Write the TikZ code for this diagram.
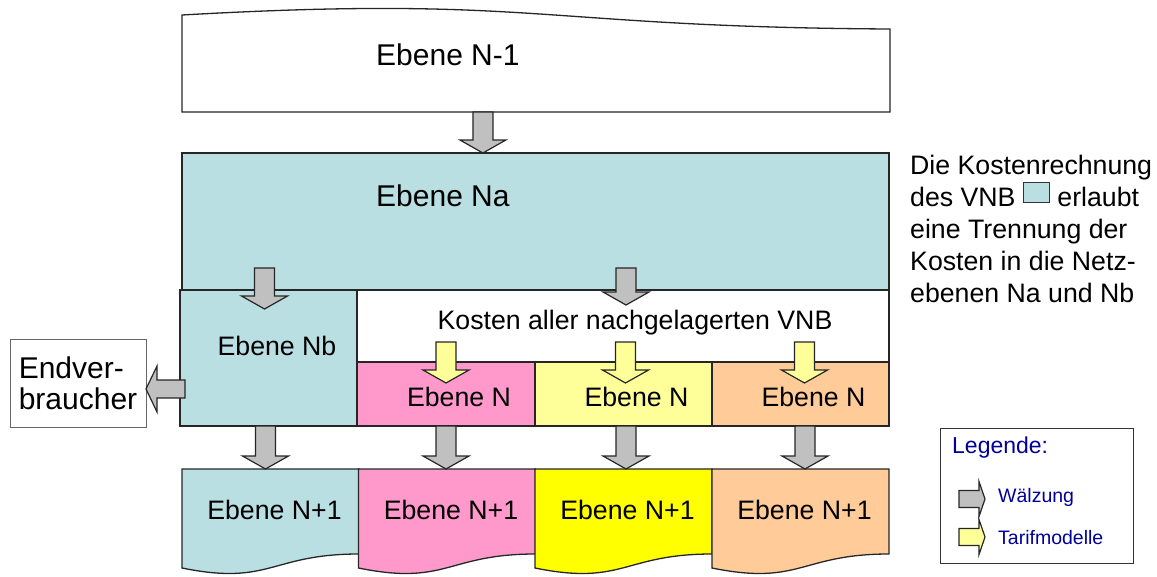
\documentclass[tikz,border=0pt]{standalone}
\usepackage{fontspec}
\setmainfont{Liberation Sans}
\usetikzlibrary{positioning, calc}

\definecolor{nbteal}{RGB}{185,223,227}
\definecolor{npink}{RGB}{255,153,204}
\definecolor{nlyellow}{RGB}{255,255,153}
\definecolor{nyellow}{RGB}{255,255,0}
\definecolor{npeach}{RGB}{255,204,153}
\definecolor{pfeilgrau}{RGB}{192,192,192}
\definecolor{legblau}{RGB}{0,0,153}

\newcommand{\fgross}{\fontsize{30pt}{31pt}\selectfont}
\newcommand{\fnorm}{\fontsize{26.7pt}{32pt}\selectfont}
\newcommand{\flegkopf}{\fontsize{23pt}{26pt}\selectfont}
\newcommand{\fleg}{\fontsize{19.5pt}{22pt}\selectfont}

% block arrow pointing down: style, start, tip
\newcommand{\pfeilab}[3]{%
	\draw[#1] let \p1=(#2), \p2=(#3) in
	(\x1-10pt,\y1) -- (\x1+10pt,\y1) -- (\x1+10pt,\y2+13pt) -- (\x1+23pt,\y2+13pt)
	-- (\x1,\y2) -- (\x1-23pt,\y2+13pt) -- (\x1-10pt,\y2+13pt) -- cycle;}

% block arrow left/right: style, start, tip, half shaft, half head, head length
\newcommand{\pfeilquer}[6]{%
	\draw[#1] let \p1=(#2), \p2=(#3), \n1={(\x2-\x1)/abs(\x2-\x1)}, \n2={\x2-\n1*#6} in
	(\x1,\y1-#4) -- (\n2,\y1-#4) -- (\n2,\y1-#5) -- (\x2,\y1)
	-- (\n2,\y1+#5) -- (\n2,\y1+#4) -- (\x1,\y1+#4) -- cycle;}

\begin{document}
\begin{tikzpicture}[
	x=1pt, y=-1pt,
	% Define styles
	box/.style={draw=black!85, line width=1.3pt, outer sep=0pt},
	slot/.style={inner sep=0pt, outer sep=0pt},
	lbl/.style={inner sep=0pt, font=\fnorm},
	legtext/.style={inner sep=0pt, text=legblau, font=\fleg},
	evbox/.style={draw=black!60, line width=1pt, outer sep=0pt, minimum width=136pt, minimum height=88pt, align=left, font=\fgross, inner sep=0pt},
	waelz/.style={draw=black!85, line width=1.2pt, fill=pfeilgrau},
	tarif/.style={draw=black!85, line width=1.2pt, fill=nlyellow}
	]
	\useasboundingbox (0,0) rectangle (1157,576);
	
	% 1. Upper level
	\node[slot, minimum width=708pt, minimum height=106pt] (n1) at (536,59) {};
	\draw[box, fill=white] (n1.south west) -- (n1.south east) -- ($(n1.south east)+(0,-83)$)
		.. controls ($(n1.south)+(0,-85)$) and ($(n1.south)+(0,-117)$) .. ($(n1.south west)+(0,-97)$) -- cycle;
	\node[lbl, font=\fgross, anchor=west] (n1text) at (376,55) {Ebene N-1};
	
	% 2. Own network levels
	\node[box, fill=nbteal, minimum width=707pt, minimum height=137pt, anchor=north west] (na) at (182,153) {};
	\node[lbl, font=\fgross, anchor=west] (natext) at (376,196) {Ebene Na};
	\node[box, fill=nbteal, minimum width=177pt, minimum height=136pt, anchor=north west] (nb) at (180,290) {};
	\node[lbl] (nbtext) at (277,346) {Ebene Nb};
	\node[box, fill=white, minimum width=532pt, minimum height=72pt, anchor=north west] (kosten) at (357,290) {};
	\node[lbl] (kostentext) at (635,323) {Kosten aller nachgelagerten VNB};
	
	% 3. Downstream operators
	\node[box, fill=npink, minimum width=178pt, minimum height=64pt, anchor=north west] (en1) at (357,362) {};
	\node[box, fill=nlyellow, minimum width=177pt, minimum height=64pt, anchor=north west] (en2) at (535,362) {};
	\node[box, fill=npeach, minimum width=177pt, minimum height=64pt, anchor=north west] (en3) at (712,362) {};
	\foreach \i in {1,2,3}
		\node[lbl] (en\i text) at ($(en\i.center)+(13,3)$) {Ebene N};
	
	% 4. Lower levels
	\foreach \i/\x/\c in {1/270.5/nbteal, 2/447/npink, 3/623.5/nyellow, 4/800.5/npeach} {
		\node[slot, minimum width=177pt, minimum height=106pt] (np\i) at (\x,522) {};
		\draw[box, fill=\c] (np\i.north west) -- (np\i.north east) -- ($(np\i.north east)+(0,85)$)
			.. controls ($(np\i.north)+(0,85)$) and ($(np\i.north)+(0,117)$) .. ($(np\i.north west)+(0,99)$) -- cycle;
		\node[lbl] (np\i text) at ($(np\i.center)+(4,-12)$) {Ebene N+1};
	}
	
	% 5. End consumers
	\node[evbox] (ev) at (78,383) {Endver-\\braucher};
	
	% Block arrows
	\pfeilab{waelz}{$(n1.south west)!0.425!(n1.south east)$}{na.north}
	\pfeilab{waelz}{$(nb.north)+(-4,-22)$}{$(nb.north)+(0,19)$}
	\pfeilab{waelz}{$(kosten.north)+(3,-22)$}{$(kosten.north)+(0,15)$}
	\pfeilab{tarif}{$(en1.north)+(0,-20)$}{$(en1.north)+(0,21)$}
	\pfeilab{tarif}{$(en2.north)+(2,-20)$}{$(en2.north)+(0,21)$}
	\pfeilab{tarif}{$(en3.north)+(4,-20)$}{$(en3.north)+(0,21)$}
	\pfeilab{waelz}{$(nb.south)+(-3,0)$}{np1.north}
	\pfeilab{waelz}{en1.south}{np2.north}
	\pfeilab{waelz}{$(en2.south)+(2.5,0)$}{np3.north}
	\pfeilab{waelz}{$(en3.south)+(4.5,0)$}{np4.north}
	\pfeilquer{waelz}{$(nb.west)+(5,31)$}{ev.east}{9pt}{23pt}{11pt}
	
	% Note on cost accounting
	\node[anchor=north west, align=left, font=\fnorm, inner sep=0pt] (notiz) at (910,155) {Die Kostenrechnung\\des VNB \raisebox{5pt}{\setlength{\fboxsep}{0pt}\setlength{\fboxrule}{1pt}\fcolorbox{black!80}{nbteal}{\makebox[25pt]{\rule{0pt}{19pt}}}} erlaubt\\eine Trennung der\\Kosten in die Netz-\\ebenen Na und Nb};
	
	% Legend
	\node[box, draw=black!80, line width=1pt, fill=white, minimum width=193pt, minimum height=135pt, anchor=north west] (leg) at (940,428) {};
	\node[legtext, font=\flegkopf, anchor=base west] (legkopf) at (952,453) {Legende:};
	\node[legtext, anchor=base west] (wz) at (998,502) {Wälzung};
	\node[legtext, anchor=base west] (tm) at (998,544) {Tarifmodelle};
	\coordinate (wzA) at ($(wz.base west)+(-39,-3)$);
	\coordinate (wzB) at ($(wz.base west)+(-13,-3)$);
	\coordinate (tmA) at ($(tm.base west)+(-39,-7)$);
	\coordinate (tmB) at ($(tm.base west)+(-13,-7)$);
	\pfeilquer{waelz}{wzA}{wzB}{8.5pt}{17.5pt}{6pt}
	\pfeilquer{tarif}{tmA}{tmB}{8.5pt}{17.5pt}{6pt}
\end{tikzpicture}
\end{document}
